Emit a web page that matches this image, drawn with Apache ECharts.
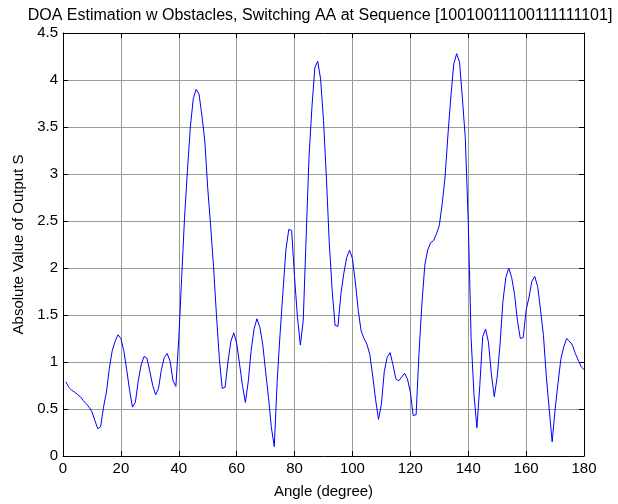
<!DOCTYPE html>
<html>
<head>
<meta charset="utf-8">
<script src="https://cdn.jsdelivr.net/npm/echarts@6/dist/echarts.min.js"></script>
<style>
  html, body { margin: 0; padding: 0; background: #fff; }
  #chart { width: 618px; height: 504px; }
</style>
</head>
<body>
<div id="chart"></div>
<script>
var absS_1_30 = [0.79, 0.73, 0.70, 0.68, 0.655, 0.63, 0.59, 0.555, 0.52, 0.47,
  0.38, 0.29, 0.31, 0.52, 0.68, 0.93, 1.12, 1.22, 1.29, 1.25,
  1.12, 0.92, 0.70, 0.52, 0.57, 0.80, 0.97, 1.06, 1.04, 0.90];
var absS_31_60 = [0.75, 0.65, 0.72, 0.92, 1.05, 1.09, 1.01, 0.80, 0.74, 1.25,
  1.90, 2.54, 3.04, 3.50, 3.80, 3.90, 3.85, 3.62, 3.35, 2.85,
  2.45, 2.02, 1.51, 1.04, 0.72, 0.73, 1.00, 1.22, 1.31, 1.20];
var absS_61_90 = [0.98, 0.75, 0.57, 0.79, 1.12, 1.35, 1.46, 1.37, 1.19, 0.90,
  0.62, 0.30, 0.10, 0.80, 1.30, 1.75, 2.19, 2.41, 2.40, 1.90,
  1.48, 1.18, 1.44, 2.33, 3.18, 3.71, 4.13, 4.20, 4.01, 3.57];
var absS_91_120 = [2.96, 2.26, 1.76, 1.39, 1.38, 1.72, 1.94, 2.11, 2.19, 2.10,
  1.85, 1.55, 1.33, 1.25, 1.19, 1.08, 0.85, 0.60, 0.39, 0.55,
  0.90, 1.05, 1.10, 0.97, 0.82, 0.80, 0.84, 0.88, 0.82, 0.68];
var absS_121_150 = [0.43, 0.44, 1.10, 1.62, 2.03, 2.19, 2.27, 2.29, 2.36, 2.45,
  2.68, 2.97, 3.42, 3.82, 4.17, 4.28, 4.19, 3.80, 3.38, 2.50,
  1.25, 0.65, 0.30, 0.75, 1.27, 1.35, 1.21, 0.87, 0.63, 0.84];
var absS_151_180 = [1.19, 1.65, 1.90, 2.00, 1.90, 1.72, 1.44, 1.25, 1.26, 1.55,
  1.69, 1.86, 1.91, 1.80, 1.55, 1.28, 0.84, 0.49, 0.15, 0.49,
  0.77, 1.03, 1.16, 1.25, 1.22, 1.18, 1.09, 1.02, 0.95, 0.92];

var firstAngle = 1;   // degrees
var xTicks = [0, 20, 40, 60, 80, 100, 120, 140, 160, 180];
var yTicks = [0, 0.5, 1, 1.5, 2, 2.5, 3, 3.5, 4, 4.5];

var absS = [].concat(absS_1_30, absS_31_60, absS_61_90, absS_91_120, absS_121_150, absS_151_180);
var points = absS.map(function (v, i) { return [firstAngle + i, v]; });

var font = 'Arial, "Liberation Sans", Helvetica, sans-serif';
var gridLine = { show: true, lineStyle: { color: '#9a9a9a', width: 1 } };
var frame = { show: true, onZero: false, lineStyle: { color: '#000', width: 1 } };
var ticksIn = { show: true, inside: true, length: 5, lineStyle: { color: '#000' } };
var label = { color: '#000', fontFamily: font, fontSize: 15 };

var chart = echarts.init(document.getElementById('chart'), null, { renderer: 'canvas' });
chart.setOption({
  animation: false,
  backgroundColor: '#fff',
  title: {
    text: 'DOA Estimation w Obstacles, Switching AA at Sequence [10010011100111111101]',
    left: 315,
    textAlign: 'center',
    top: 3,
    textStyle: { color: '#000', fontFamily: font, fontSize: 16, fontWeight: 'normal' }
  },
  grid: { left: 63, right: 34, top: 33, bottom: 48 },
  xAxis: [
    {
      type: 'value', min: xTicks[0], max: xTicks[xTicks.length - 1], interval: 20,
      name: 'Angle (degree)', nameLocation: 'middle', nameGap: 28,
      nameTextStyle: label,
      axisLine: frame, axisTick: ticksIn, splitLine: gridLine,
      axisLabel: Object.assign({ margin: 5 }, label)
    },
    {
      type: 'value', position: 'top', min: 0, max: 180, interval: 20,
      axisLine: frame, axisTick: ticksIn, splitLine: { show: false }, axisLabel: { show: false }
    }
  ],
  yAxis: [
    {
      type: 'value', min: yTicks[0], max: yTicks[yTicks.length - 1], interval: 0.5,
      name: 'Absolute Value of Output S', nameLocation: 'middle', nameGap: 37,
      nameTextStyle: label,
      axisLine: frame, axisTick: ticksIn, splitLine: gridLine,
      axisLabel: Object.assign({ margin: 5 }, label)
    },
    {
      type: 'value', position: 'right', min: 0, max: 4.5, interval: 0.5,
      axisLine: frame, axisTick: ticksIn, splitLine: { show: false }, axisLabel: { show: false }
    }
  ],
  series: [{
    type: 'line',
    data: points,
    showSymbol: false,
    symbol: 'none',
    lineStyle: { color: '#0000ff', width: 1 },
    itemStyle: { color: '#0000ff' }
  }]
});
</script>
</body>
</html>
